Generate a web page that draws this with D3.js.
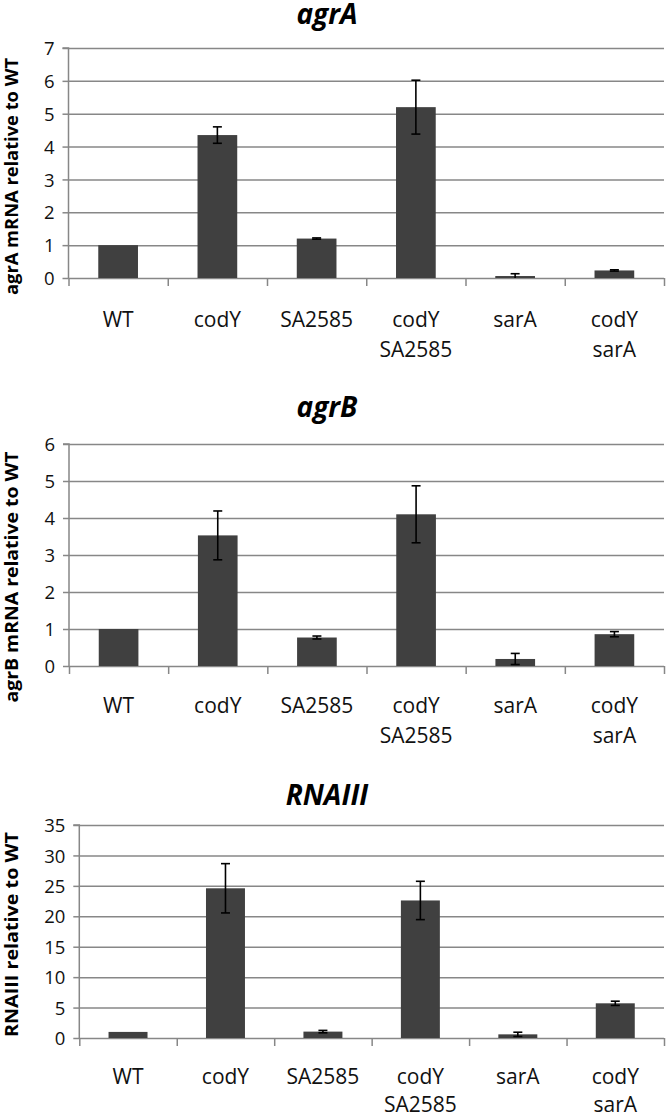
<!DOCTYPE html>
<html>
<head>
<meta charset="utf-8">
<script src="https://cdn.jsdelivr.net/npm/d3@7"></script>
<style>
  html, body { margin: 0; padding: 0; background: #ffffff; }
  svg { display: block; }
  text { font-family: "Open Sans", Lato, sans-serif; }
</style>
</head>
<body>
<svg id="chart" width="666" height="1118"></svg>
<script>
// ---- data ----
const categories = ["WT", "codY", "SA2585", "codY SA2585", "sarA", "codY sarA"];
const categoryLines = [["WT"], ["codY"], ["SA2585"], ["codY", "SA2585"], ["sarA"], ["codY", "sarA"]];

const agrAValues = [1.0, 4.35, 1.2, 5.2, 0.06, 0.23];
const agrAErrors = [0, 0.25, 0.02, 0.82, 0.07, 0.02];

const agrBValues = [1.0, 3.53, 0.77, 4.1, 0.19, 0.86];
const agrBErrors = [0, 0.66, 0.04, 0.77, 0.15, 0.07];

const rnaValues = [1.0, 24.6, 1.05, 22.6, 0.6, 5.7];
const rnaErrors = [0, 4.05, 0.2, 3.15, 0.35, 0.35];

const panelTitles = ["agrA", "agrB", "RNAIII"];
const axisTitles = ["agrA mRNA relative to WT", "agrB mRNA relative to WT", "RNAIII relative to WT"];
const yMaxes = [7, 6, 35];
const yTickSteps = [1, 1, 5];

// ---- layout ----
const panels = [
  { values: agrAValues, errors: agrAErrors, top: 48, bottom: 278, left: 68.5, titleY: 24, labelY: 326.5, lineGap: 30, yTitleC: 176.5, yTitleLen: 237 },
  { values: agrBValues, errors: agrBErrors, top: 444, bottom: 666, left: 69, titleY: 417, labelY: 713, lineGap: 30, yTitleC: 577, yTitleLen: 251 },
  { values: rnaValues, errors: rnaErrors, top: 825, bottom: 1038, left: 79.3, titleY: 805, labelY: 1084, lineGap: 28, yTitleC: 934.5, yTitleLen: 205 }
];
const right = 664;
const gridColor = "#878787";
const barColor = "#404040";

const svg = d3.select("#chart");

panels.forEach((p, i) => {
  const g = svg.append("g");
  const x = d3.scaleBand().domain(categories).range([p.left, right]).paddingInner(0.6).paddingOuter(0.3);
  const xEdge = d3.scaleLinear().domain([0, categories.length]).range([p.left, right]);
  const y = d3.scaleLinear().domain([0, yMaxes[i]]).range([p.bottom, p.top]);
  const ticks = d3.range(0, yMaxes[i] + 0.001, yTickSteps[i]);

  // gridlines + y axis
  const yAxis = d3.axisLeft(y).tickValues(ticks).tickSize(6).tickPadding(8).tickFormat(d3.format("d"));
  const ya = g.append("g").attr("transform", `translate(${p.left},0)`).call(yAxis);
  ya.select(".domain").attr("stroke", gridColor).attr("stroke-width", 1.5).attr("d", `M-6,${p.top}H0V${p.bottom}`);
  ya.selectAll(".tick line").attr("stroke", gridColor).attr("stroke-width", 1.5);
  ya.selectAll(".tick text").attr("font-size", 18.5).attr("fill", "#111").attr("dy", "0.36em");
  ya.selectAll(".tick").append("line")
    .attr("x1", 0).attr("x2", right - p.left)
    .attr("stroke", gridColor).attr("stroke-width", 1.5);

  // category tick marks
  const xAxis = d3.axisBottom(xEdge).tickValues(d3.range(0, categories.length + 1)).tickSize(8).tickFormat("");
  const xa = g.append("g").attr("transform", `translate(0,${p.bottom})`).call(xAxis);
  xa.select(".domain").remove();
  xa.selectAll(".tick line").attr("stroke", gridColor).attr("stroke-width", 1.5);

  // bars
  g.selectAll("rect.bar").data(p.values).join("rect")
    .attr("class", "bar")
    .attr("x", (d, k) => x(categories[k]))
    .attr("width", x.bandwidth())
    .attr("y", d => y(d))
    .attr("height", d => y(0) - y(d))
    .attr("fill", barColor);

  // error bars
  const eb = g.selectAll("g.err").data(p.values.map((v, k) => ({ v, e: p.errors[k], k })).filter(d => d.e > 0))
    .join("g").attr("class", "err")
    .attr("transform", d => `translate(${x(categories[d.k]) + x.bandwidth() / 2},0)`);
  eb.append("line").attr("x1", 0).attr("x2", 0)
    .attr("y1", d => y(Math.max(0, d.v - d.e))).attr("y2", d => y(d.v + d.e))
    .attr("stroke", "#000").attr("stroke-width", 1.6);
  eb.append("line").attr("x1", -4.5).attr("x2", 4.5)
    .attr("y1", d => y(d.v + d.e)).attr("y2", d => y(d.v + d.e))
    .attr("stroke", "#000").attr("stroke-width", 1.6);
  eb.filter(d => d.v - d.e > 0).append("line").attr("x1", -4.5).attr("x2", 4.5)
    .attr("y1", d => y(d.v - d.e)).attr("y2", d => y(d.v - d.e))
    .attr("stroke", "#000").attr("stroke-width", 1.6);

  // category labels
  const lab = g.selectAll("text.cat").data(categoryLines).join("text")
    .attr("class", "cat")
    .attr("text-anchor", "middle")
    .attr("font-size", 21)
    .attr("fill", "#111")
    .attr("x", (d, k) => x(categories[k]) + x.bandwidth() / 2)
    .attr("y", p.labelY);
  lab.selectAll("tspan").data(d => d).join("tspan")
    .attr("x", function() { return d3.select(this.parentNode).attr("x"); })
    .attr("dy", (d, k) => k === 0 ? 0 : p.lineGap)
    .text(d => d);

  // panel title
  g.append("text")
    .attr("x", 327).attr("y", p.titleY)
    .attr("text-anchor", "middle")
    .attr("font-size", 28).attr("font-weight", "bold").attr("font-style", "italic")
    .attr("fill", "#000")
    .text(panelTitles[i]);

  // y axis title
  g.append("text")
    .attr("transform", `translate(18,${p.yTitleC}) rotate(-90)`)
    .attr("text-anchor", "middle")
    .attr("font-size", 17).attr("font-weight", "bold")
    .attr("fill", "#000")
    .attr("textLength", p.yTitleLen).attr("lengthAdjust", "spacingAndGlyphs")
    .text(axisTitles[i]);
});
</script>
</body>
</html>
